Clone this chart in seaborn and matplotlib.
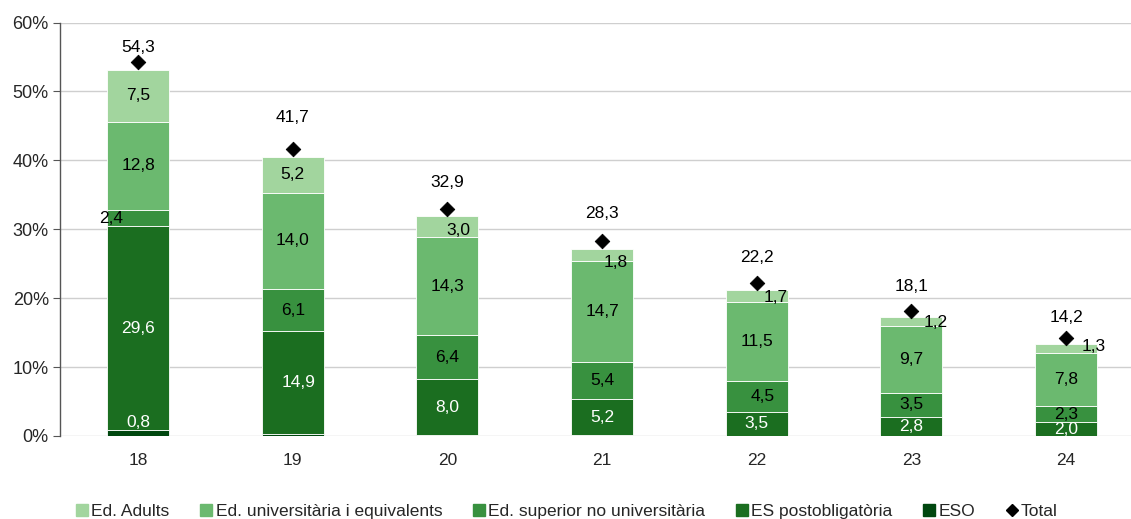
import numpy as np
import pandas as pd
import matplotlib
matplotlib.use("Agg")
import matplotlib.pyplot as plt
import seaborn as sns
from matplotlib.lines import Line2D

# dades (%)
ages = ["18", "19", "20", "21", "22", "23", "24"]
eso = [0.8, 0.3, 0.2, 0.1, 0.0, 0.0, 0.0]
es_post = [29.6, 14.9, 8.0, 5.2, 3.5, 2.8, 2.0]
sup_no_univ = [2.4, 6.1, 6.4, 5.4, 4.5, 3.5, 2.3]
univ = [12.8, 14.0, 14.3, 14.7, 11.5, 9.7, 7.8]
adults = [7.5, 5.2, 3.0, 1.8, 1.7, 1.2, 1.3]
total = [54.3, 41.7, 32.9, 28.3, 22.2, 18.1, 14.2]

series_names = ["ESO", "ES postobligatòria", "Ed. superior no universitària",
                "Ed. universitària i equivalents", "Ed. Adults"]
series_vals = [eso, es_post, sup_no_univ, univ, adults]
colors = ["#00470f", "#1b6e20", "#38913f", "#6bb96f", "#a2d59e"]
label_colors = ["white", "white", "black", "black", "black"]

df = pd.DataFrame({"edat": ages})
for n, v in zip(series_names, series_vals):
    df[n] = v

sns.set_style("white")
plt.rcParams["font.family"] = ["Liberation Sans", "DejaVu Sans"]

fig = plt.figure(figsize=(11.31, 5.19), dpi=100)
ax = fig.add_axes([0.053, 0.16, 0.947, 0.7966])

bottom = np.zeros(len(ages))
for i, n in enumerate(series_names):
    sns.barplot(data=df, x="edat", y=n, color=colors[i], width=0.4,
                bottom=bottom, ax=ax, saturation=1, linewidth=0.6,
                edgecolor="white", zorder=3)
    bottom = bottom + df[n].values

# etiquetes dels segments (desplaçaments en píxels)
x_off = {(2, 0): -26, (1, 1): 6, (4, 2): 11, (4, 3): 13, (4, 4): 18,
         (4, 5): 23, (4, 6): 27, (2, 4): 6}
y_off = {(0, 0): 10, (4, 3): -7, (4, 4): -2, (4, 5): -1, (4, 6): 2, (4, 2): -4}
bottom = np.zeros(len(ages))
for i, n in enumerate(series_names):
    vals = df[n].values
    for j, v in enumerate(vals):
        if v >= 0.5:
            dx = x_off.get((i, j), 0) * 0.75
            dy = y_off.get((i, j), 0) * 0.75
            ax.annotate(f"{v:.1f}".replace(".", ","), (j, bottom[j] + v / 2),
                        xytext=(dx, dy), textcoords="offset points",
                        ha="center", va="center", fontsize=12.5,
                        color=label_colors[i], zorder=5)
    bottom = bottom + vals

# total
sns.scatterplot(x=list(range(len(ages))), y=total, marker="D", color="black",
                s=55, ax=ax, zorder=6, edgecolor="black")
tot_off = [14, 30, 26, 26, 24, 24, 20]
for j, t in enumerate(total):
    ax.annotate(f"{t:.1f}".replace(".", ","), (j, t), xytext=(0, tot_off[j] * 0.75),
                textcoords="offset points", ha="center", va="center",
                fontsize=12.5, color="black", zorder=6)

ax.set_xlim(-0.505, 6.42)
ax.set_ylim(0, 60)
ax.set_yticks(range(0, 61, 10))
ax.set_yticklabels([f"{v}%" for v in range(0, 61, 10)])
ax.set_xlabel("")
ax.set_ylabel("")
ax.grid(axis="y", color="#cfcfcf", linewidth=1, zorder=0)
ax.grid(axis="x", visible=False)
for s in ["top", "right", "bottom"]:
    ax.spines[s].set_visible(False)
ax.spines["left"].set_color("#555555")
ax.spines["left"].set_linewidth(1)
ax.tick_params(axis="y", left=True, length=5, color="#555555", labelsize=13, pad=3)
ax.tick_params(axis="x", bottom=False, labelsize=12.5, pad=9)

handles = [Line2D([], [], marker="s", linestyle="", color=colors[i], markersize=9)
           for i in [4, 3, 2, 1, 0]]
handles.append(Line2D([], [], marker="D", linestyle="", color="black", markersize=6))
labels = [series_names[i] for i in [4, 3, 2, 1, 0]] + ["Total"]
fig.legend(handles, labels, loc="center", bbox_to_anchor=(0.5, 0.015), ncol=6,
           frameon=False, handletextpad=0.05, columnspacing=1.6, handlelength=1.0,
           prop={"family": ["Liberation Sans Narrow", "Liberation Sans"], "size": 12.5})

fig.savefig("out.png", dpi=100)
